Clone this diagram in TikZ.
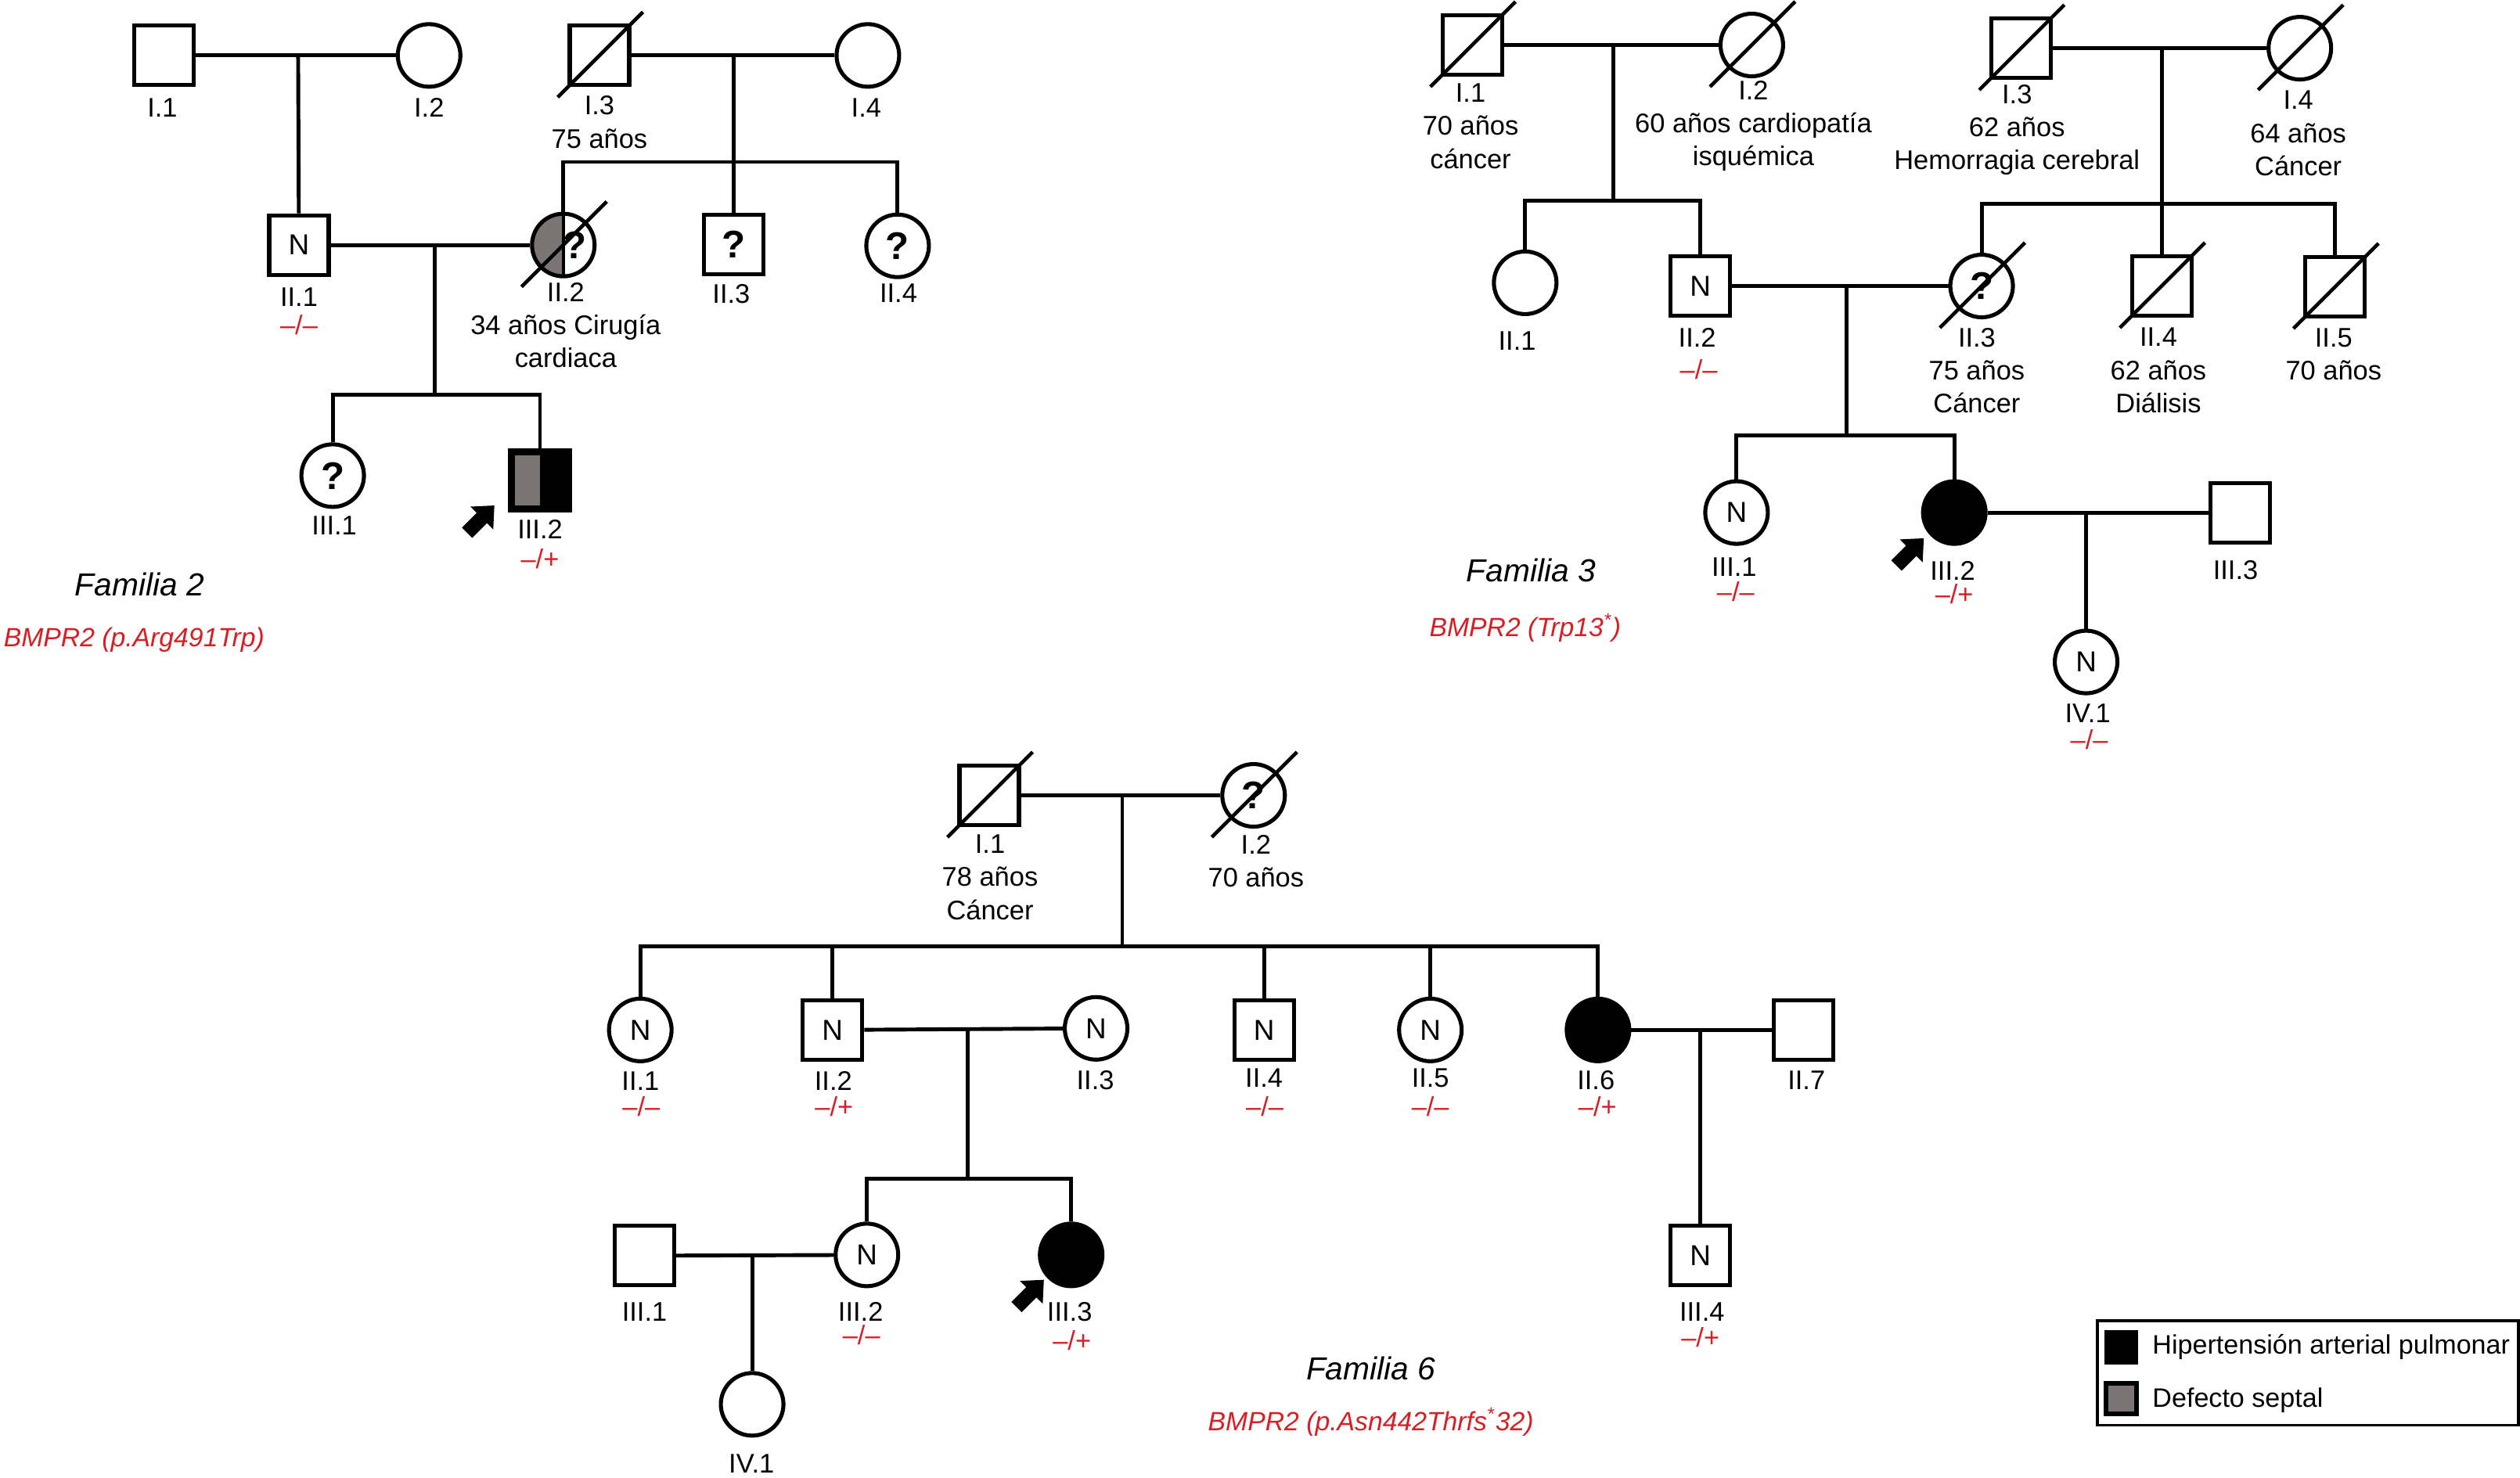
\documentclass[tikz,border=0pt]{standalone}
\usepackage{fontspec}
\setmainfont{Liberation Sans}
\definecolor{septgray}{RGB}{122,116,117}
\definecolor{genred}{RGB}{214,30,36}
\newcommand{\deceased}[1]{\draw[slash] ([shift={(-26,26)}]#1.center) -- ([shift={(27,-27)}]#1.center);}
\begin{document}
\begin{tikzpicture}[x=0.020536cm,y=-0.020536cm,
    sym/.style={draw,line width=1.45pt,inner sep=0pt,font=\fontsize{10.5}{10.5}\selectfont},
    male/.style={sym,rectangle,minimum size=0.76cm},
    female/.style={sym,circle,minimum size=0.80cm},
    qm/.style={font=\bfseries\fontsize{14}{14}\selectfont},
    line/.style={line width=1.4pt},
    slash/.style={line width=1.3pt},
    lbl/.style={font=\fontsize{9.8}{12}\selectfont,align=center,inner sep=0pt},
    geno/.style={lbl,text=genred},
    title/.style={font=\itshape\fontsize{11.6}{14}\selectfont,inner sep=0pt},
    gene/.style={font=\itshape\fontsize{9.6}{12}\selectfont,text=genred,inner sep=0pt},
    legtext/.style={font=\fontsize{9.7}{12}\selectfont,inner sep=0pt,anchor=west},
    proband/.pic={\fill (0,0) -- (-0.7,14.9) -- (-4.6,11) -- (-13.8,20.2) -- (-20.2,13.8) -- (-11,4.6) -- (-14.9,0.7) -- cycle;}]

  \useasboundingbox (0,0) rectangle (1568,919.4);

  % Familia 2
  \path (102,34.5) node[male](f2_i1){};
  \path (267,34.5) node[female](f2_i2){};
  \path (373,34.5) node[male](f2_i3){};
  \path (540,34.5) node[female](f2_i4){};
  \path (186,152.5) node[male](f2_ii1){N};
  \path (350.5,152.5) node[female,path picture={
      \fill[septgray] (path picture bounding box.south west) rectangle (path picture bounding box.north);
      \draw[line width=1pt] (path picture bounding box.north) -- (path picture bounding box.south);}](f2_ii2){};
  \path (357.5,152.5) node[qm](f2_ii2q){?};
  \path (456.5,152) node[male,qm](f2_ii3){?};
  \path (558.5,153) node[female,qm](f2_ii4){?};
  \path (207,296) node[female,qm](f2_iii1){?};
  \path (336,299) node[male,fill=black,path picture={
      \fill[septgray] ([shift={(1.6pt,-1.6pt)}]path picture bounding box.north west) rectangle ([shift={(0pt,1.6pt)}]path picture bounding box.south);}](f2_iii2){};
  \deceased{f2_i3}
  \deceased{f2_ii2}

  \coordinate (f2_m1) at (185.5,34.5);
  \coordinate (f2_m2) at (456.5,34.5);
  \coordinate (f2_s2) at (456.5,100.8);
  \coordinate (f2_m3) at (270.7,152.5);
  \coordinate (f2_s3) at (270.7,245.5);
  \draw[line] (f2_i1) -- (f2_i2);
  \draw[line] (f2_i3) -- (f2_i4);
  \draw[line] (f2_m1) -- (f2_ii1);
  \draw[line] (f2_m2) -- (f2_ii3);
  \draw[line] (f2_ii2) |- (f2_s2) -| (f2_ii4);
  \draw[line] (f2_ii1) -- (f2_ii2);
  \draw[line] (f2_m3) -- (f2_s3);
  \draw[line] (f2_iii1) |- (f2_s3) -| (f2_iii2);

  \path (101,67) node[lbl](f2_i1l){I.1};
  \path (267,67) node[lbl](f2_i2l){I.2};
  \path (373,76) node[lbl](f2_i3l){I.3\\75 años};
  \path (539,67) node[lbl](f2_i4l){I.4};
  \path (186,185) node[lbl](f2_ii1l){II.1};
  \path (186,202) node[geno](f2_ii1g){–/–};
  \path (352,202.5) node[lbl](f2_ii2l){II.2\\34 años Cirugía\\cardiaca};
  \path (455,183) node[lbl](f2_ii3l){II.3};
  \path (559,182.5) node[lbl](f2_ii4l){II.4};
  \path (208,327) node[lbl](f2_iii1l){III.1};
  \path (336,329.5) node[lbl](f2_iii2l){III.2};
  \path (336,348) node[geno](f2_iii2g){–/+};
  \pic at (307.6,314.6) {proband};
  \path (87,363.6) node[title](f2_title){Familia 2};
  \path (2,398) node[gene,anchor=west](f2_gene){BMPR2 (p.Arg491Trp)};

  % Familia 3
  \path (916,28) node[male](f3_i1){};
  \path (1090,28) node[female](f3_i2){};
  \path (1257.5,30) node[male](f3_i3){};
  \path (1431,30) node[female](f3_i4){};
  \path (949,176) node[female](f3_ii1){};
  \path (1058,178) node[male](f3_ii2){N};
  \path (1233,178) node[female,qm](f3_ii3){?};
  \path (1345,178) node[male](f3_ii4){};
  \path (1453,178.5) node[male](f3_ii5){};
  \path (1080.5,319) node[female](f3_iii1){N};
  \path (1216,319) node[female,fill=black](f3_iii2){};
  \path (1394,319) node[male](f3_iii3){};
  \path (1298,412) node[female](f3_iv1){N};
  \foreach \d in {f3_i1,f3_i2,f3_i3,f3_i4,f3_ii3,f3_ii4,f3_ii5}
    \deceased{\d};

  \coordinate (f3_m1) at (1004,28);
  \coordinate (f3_s1) at (1004,125);
  \coordinate (f3_m2) at (1345,30);
  \coordinate (f3_s2) at (1345,126.7);
  \coordinate (f3_m3) at (1149,178);
  \coordinate (f3_s3) at (1149,271);
  \coordinate (f3_m4) at (1298,319);
  \draw[line] (f3_i1) -- (f3_i2);
  \draw[line] (f3_i3) -- (f3_i4);
  \draw[line] (f3_m1) -- (f3_s1);
  \draw[line] (f3_ii1) |- (f3_s1) -| (f3_ii2);
  \draw[line] (f3_m2) -- (f3_ii4);
  \draw[line] (f3_ii3) |- (f3_s2) -| (f3_ii5);
  \draw[line] (f3_ii2) -- (f3_ii3);
  \draw[line] (f3_m3) -- (f3_s3);
  \draw[line] (f3_iii1) |- (f3_s3) -| (f3_iii2);
  \draw[line] (f3_iii2) -- (f3_iii3);
  \draw[line] (f3_m4) -- (f3_iv1);

  \path (915,78.5) node[lbl](f3_i1l){I.1\\70 años\\cáncer};
  \path (1091,78.5) node[lbl](f3_i2l){I.2\\60 años cardiopatía\\isquémica};
  \path (1255,81) node[lbl](f3_i3l){I.3\\62 años\\Hemorragia cerebral};
  \path (1430,83) node[lbl](f3_i4l){I.4\\64 años\\Cáncer};
  \path (944,212) node[lbl](f3_ii1l){II.1};
  \path (1056,210) node[lbl](f3_ii2l){II.2};
  \path (1057,230) node[geno](f3_ii2g){–/–};
  \path (1230,230.5) node[lbl](f3_ii3l){II.3\\75 años\\Cáncer};
  \path (1343,230.5) node[lbl](f3_ii4l){II.4\\62 años\\Diálisis};
  \path (1452,220.5) node[lbl](f3_ii5l){II.5\\70 años};
  \path (1079,353) node[lbl](f3_iii1l){III.1};
  \path (1080,368) node[geno](f3_iii1g){–/–};
  \path (1215,355) node[lbl](f3_iii2l){III.2};
  \path (1216,369.5) node[geno](f3_iii2g){–/+};
  \path (1391,355) node[lbl](f3_iii3l){III.3};
  \path (1299,444) node[lbl](f3_iv1l){IV.1};
  \path (1300,460.5) node[geno](f3_iv1g){–/–};
  \pic at (1197,335) {proband};
  \path (952.6,355) node[title](f3_title){Familia 3};
  \path (949,390.6) node[gene](f3_gene){BMPR2 (Trp13\textsuperscript{*})};

  % Familia 6
  \path (615.5,495) node[male](f6_i1){};
  \path (780,495) node[female,qm](f6_i2){?};
  \path (398.4,641) node[female](f6_ii1){N};
  \path (518,641) node[male](f6_ii2){N};
  \path (682,640) node[female](f6_ii3){N};
  \path (786.5,641) node[male](f6_ii4){N};
  \path (890,641) node[female](f6_ii5){N};
  \path (994.3,641) node[female,fill=black](f6_ii6){};
  \path (1122,641) node[male](f6_ii7){};
  \path (401,781.5) node[male](f6_iii1){};
  \path (539.4,781) node[female](f6_iii2){N};
  \path (666.5,781) node[female,fill=black](f6_iii3){};
  \path (1058,781.5) node[male](f6_iii4){N};
  \path (468,874) node[female](f6_iv1){};
  \deceased{f6_i1}
  \deceased{f6_i2}

  \coordinate (f6_m1) at (698.3,495);
  \coordinate (f6_s1) at (698.3,589);
  \coordinate (f6_m2) at (602,640.5);
  \coordinate (f6_s2) at (602,733.5);
  \coordinate (f6_m3) at (1058,641);
  \coordinate (f6_m4) at (468,781);
  \draw[line] (f6_i1) -- (f6_i2);
  \draw[line] (f6_m1) -- (f6_s1);
  \draw[line] (f6_ii1) |- (f6_s1) -| (f6_ii6);
  \foreach \k in {f6_ii2,f6_ii4,f6_ii5}
    \draw[line] (\k) -- (\k |- f6_s1);
  \draw[line] (f6_ii2) -- (f6_ii3);
  \draw[line] (f6_m2) -- (f6_s2);
  \draw[line] (f6_iii2) |- (f6_s2) -| (f6_iii3);
  \draw[line] (f6_ii6) -- (f6_ii7);
  \draw[line] (f6_m3) -- (f6_iii4);
  \draw[line] (f6_iii1) -- (f6_iii2);
  \draw[line] (f6_m4) -- (f6_iv1);

  \path (616,546) node[lbl](f6_i1l){I.1\\78 años\\Cáncer};
  \path (781.5,536) node[lbl](f6_i2l){I.2\\70 años};
  \path (398.5,673) node[lbl](f6_ii1l){II.1};
  \path (399,688.5) node[geno](f6_ii1g){–/–};
  \path (518.5,672.5) node[lbl](f6_ii2l){II.2};
  \path (519,688.5) node[geno](f6_ii2g){–/+};
  \path (681.5,672.5) node[lbl](f6_ii3l){II.3};
  \path (786.5,671) node[lbl](f6_ii4l){II.4};
  \path (787,688.5) node[geno](f6_ii4g){–/–};
  \path (890,671) node[lbl](f6_ii5l){II.5};
  \path (890,688.5) node[geno](f6_ii5g){–/–};
  \path (993,672.5) node[lbl](f6_ii6l){II.6};
  \path (994,688.5) node[geno](f6_ii6g){–/+};
  \path (1124,672.5) node[lbl](f6_ii7l){II.7};
  \path (401,816.5) node[lbl](f6_iii1l){III.1};
  \path (535.5,816.5) node[lbl](f6_iii2l){III.2};
  \path (536,831) node[geno](f6_iii2g){–/–};
  \path (665.5,816.5) node[lbl](f6_iii3l){III.3};
  \path (667,834) node[geno](f6_iii3g){–/+};
  \path (1059,816.5) node[lbl](f6_iii4l){III.4};
  \path (1058,832.5) node[geno](f6_iii4g){–/+};
  \path (467.6,911) node[lbl](f6_iv1l){IV.1};
  \pic at (649.5,796.5) {proband};
  \path (853,851.5) node[title](f6_title){Familia 6};
  \path (853,885) node[gene](f6_gene){BMPR2 (p.Asn442Thrfs\textsuperscript{*}32)};

  % leyenda
  \draw[line width=1pt] (1305,822) rectangle (1567,887);
  \fill (1309.5,828) rectangle (1330.5,849);
  \draw[fill=septgray,line width=1.8pt] (1310.5,861) rectangle (1329.5,880);
  \path (1339,838.5) node[legtext](leg_hap){Hipertensión arterial pulmonar};
  \path (1339,871.5) node[legtext](leg_ds){Defecto septal};

\end{tikzpicture}
\end{document}
